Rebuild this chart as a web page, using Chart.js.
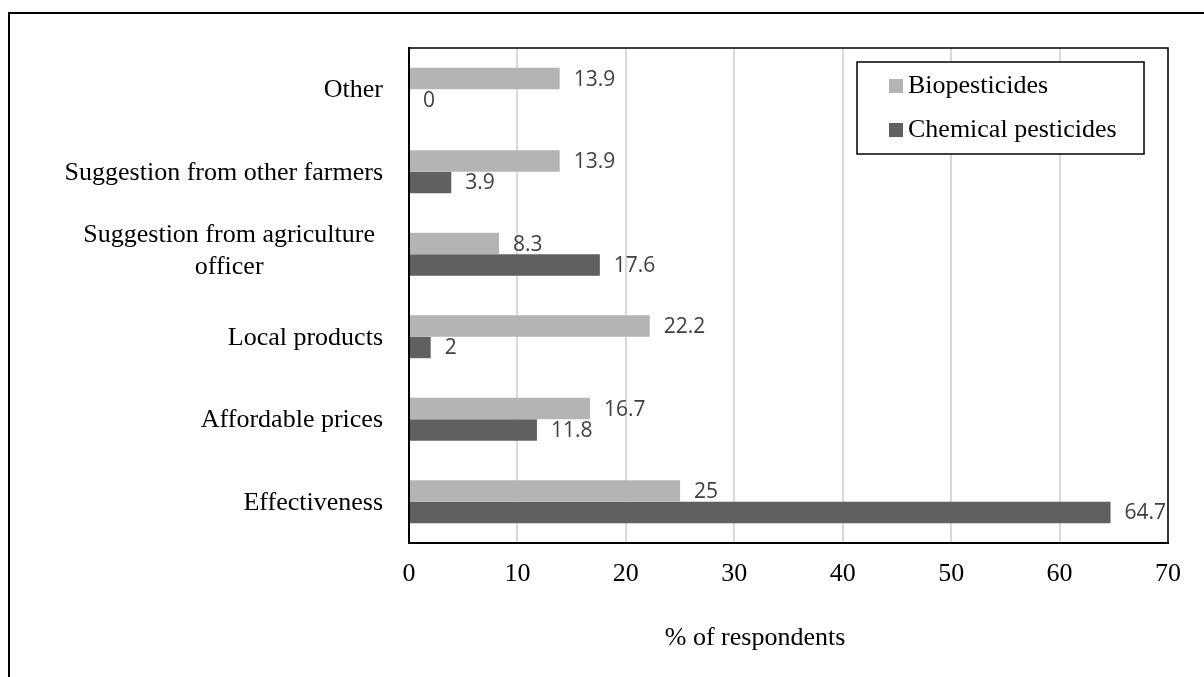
<!DOCTYPE html>
<html>
<head>
<meta charset="utf-8">
<title>Reasons for choosing pesticides</title>
<script src="https://cdn.jsdelivr.net/npm/chart.js@4.4.1/dist/chart.umd.min.js"></script>
<style>
  html, body { margin: 0; padding: 0; background: #ffffff; }
  canvas { display: block; }
</style>
</head>
<body>
<canvas id="chart" width="1204" height="677"></canvas>
<script>
// Reasons given, top to bottom
const categories = [
  "Other",
  "Suggestion from other farmers",
  ["Suggestion from agriculture", "officer"],
  "Local products",
  "Affordable prices",
  "Effectiveness"
];
const seriesNames = ["Biopesticides", "Chemical pesticides"];
const biopesticides = [13.9, 13.9, 8.3, 22.2, 16.7, 25];
const chemicalPesticides = [0, 3.9, 17.6, 2, 11.8, 64.7];
const xTicks = [0, 10, 20, 30, 40, 50, 60, 70];
const xTitle = "% of respondents";

const SERIF = "'Liberation Serif', 'Times New Roman', serif";
const SANS = "'Open Sans', 'Noto Sans', sans-serif";
const barColors = ["#b4b4b4", "#606060"];

// Frame, category labels, value labels, plot border, legend and axis title
const decorations = {
  id: "decorations",
  beforeDraw(chart) {
    const ctx = chart.ctx;
    ctx.save();
    ctx.fillStyle = "#ffffff";
    ctx.fillRect(0, 0, chart.width, chart.height);
    ctx.strokeStyle = "#000000";
    ctx.lineWidth = 2;
    ctx.beginPath();
    ctx.moveTo(9, chart.height);
    ctx.lineTo(9, 13);
    ctx.lineTo(chart.width, 13);
    ctx.stroke();
    ctx.restore();
  },
  afterDatasetsDraw(chart) {
    const ctx = chart.ctx;
    ctx.save();
    ctx.font = "21px " + SANS;
    ctx.fillStyle = "#404040";
    ctx.textAlign = "left";
    ctx.textBaseline = "middle";
    chart.data.datasets.forEach((ds, di) => {
      const meta = chart.getDatasetMeta(di);
      meta.data.forEach((bar, i) => {
        ctx.fillText(String(ds.data[i]), bar.x + 14, bar.y + 1);
      });
    });
    ctx.restore();
  },
  afterDraw(chart) {
    const ctx = chart.ctx;
    const area = chart.chartArea;
    ctx.save();

    // top and right edges of the plot area
    ctx.strokeStyle = "#000000";
    ctx.lineWidth = 1.5;
    ctx.beginPath();
    ctx.moveTo(area.left, area.top);
    ctx.lineTo(area.right, area.top);
    ctx.lineTo(area.right, area.bottom);
    ctx.stroke();

    // category labels
    const yScale = chart.scales.y;
    ctx.font = "26px " + SERIF;
    ctx.fillStyle = "#000000";
    ctx.textBaseline = "middle";
    const labelRight = area.left - 26;
    categories.forEach((label, i) => {
      const y = yScale.getPixelForTick(i);
      if (Array.isArray(label)) {
        const lh = 32;
        const w = Math.max(...label.map(l => ctx.measureText(l).width));
        const cx = labelRight - 8 - w / 2;
        ctx.textAlign = "center";
        label.forEach((line, k) => {
          ctx.fillText(line, cx, y - 3 + (k - (label.length - 1) / 2) * lh);
        });
      } else {
        ctx.textAlign = "right";
        ctx.fillText(label, labelRight, y + 1);
      }
    });

    // axis title
    ctx.textAlign = "center";
    ctx.fillText(xTitle, 755, 638);

    // legend
    const lx = 857, ly = 62, lw = 287, lhgt = 92;
    ctx.fillStyle = "#ffffff";
    ctx.fillRect(lx, ly, lw, lhgt);
    ctx.strokeStyle = "#000000";
    ctx.lineWidth = 1.5;
    ctx.strokeRect(lx, ly, lw, lhgt);
    ctx.textAlign = "left";
    chart.data.datasets.forEach((ds, di) => {
      const cy = 86 + di * 44;
      ctx.fillStyle = ds.backgroundColor;
      ctx.fillRect(889, cy - 7, 14, 14);
      ctx.fillStyle = "#000000";
      ctx.fillText(ds.label, 908, cy);
    });

    ctx.restore();
  }
};

new Chart(document.getElementById("chart"), {
  type: "bar",
  data: {
    labels: categories,
    datasets: [
      { label: seriesNames[0], data: biopesticides, backgroundColor: barColors[0] },
      { label: seriesNames[1], data: chemicalPesticides, backgroundColor: barColors[1] }
    ]
  },
  options: {
    indexAxis: "y",
    responsive: false,
    animation: false,
    maintainAspectRatio: false,
    datasets: {
      bar: { categoryPercentage: 0.52, barPercentage: 1.0, borderWidth: 0 }
    },
    layout: { padding: { left: 0, right: 36, top: 48, bottom: 0 } },
    plugins: {
      legend: { display: false },
      tooltip: { enabled: false }
    },
    scales: {
      x: {
        type: "linear",
        min: xTicks[0],
        max: xTicks[xTicks.length - 1],
        afterFit(scale) { scale.height = 134; },
        afterBuildTicks(scale) { scale.ticks = xTicks.map(v => ({ value: v })); },
        ticks: {
          padding: 16,
          color: "#000000",
          font: { family: SERIF, size: 26 }
        },
        grid: { color: "#d9d9d9", lineWidth: 2, drawTicks: false },
        border: { display: true, color: "#000000", width: 2 }
      },
      y: {
        afterFit(scale) { scale.width = 409; },
        ticks: { display: false },
        grid: { display: false, drawTicks: false },
        border: { display: true, color: "#000000", width: 2 }
      }
    }
  },
  plugins: [decorations]
});
</script>
</body>
</html>
